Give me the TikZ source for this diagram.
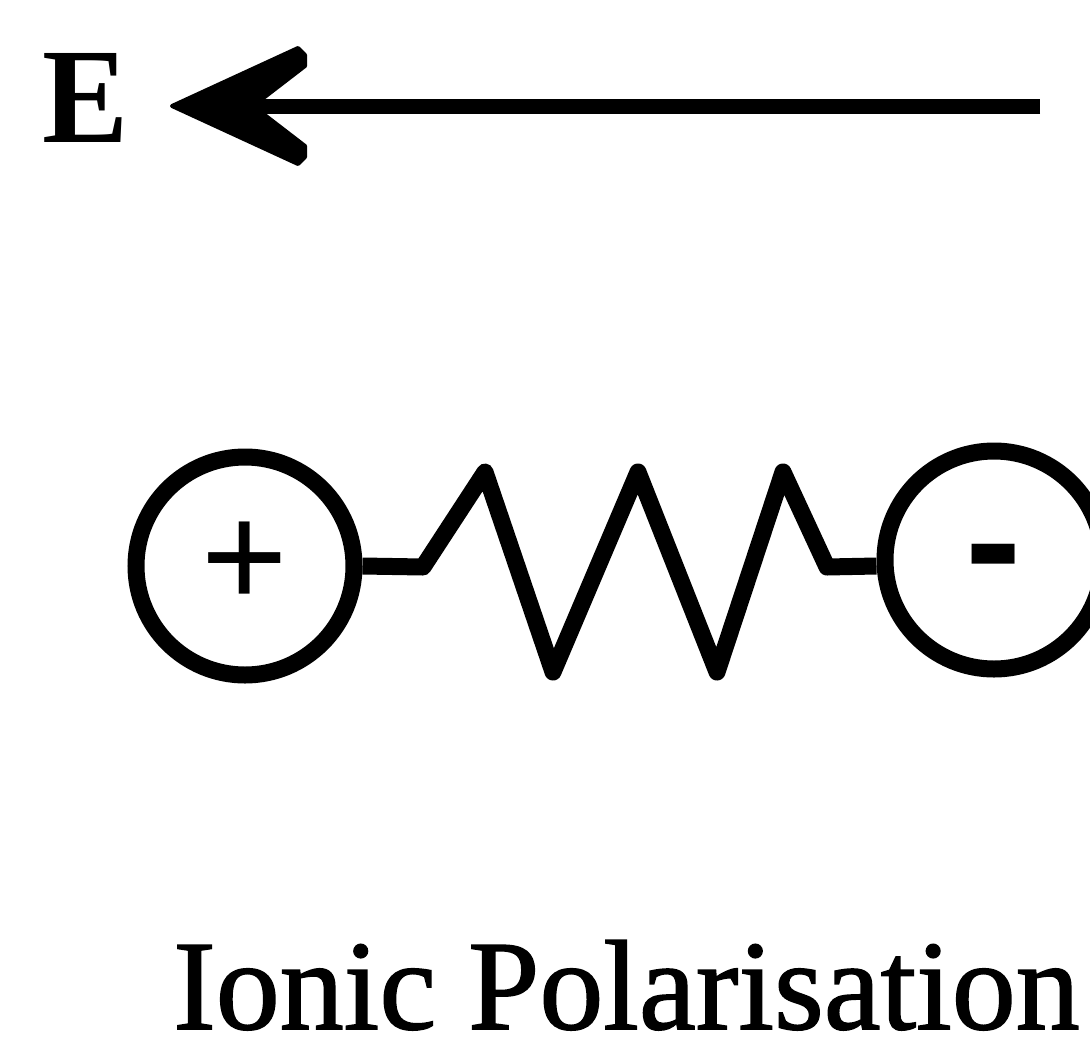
\documentclass[tikz,border=0pt]{standalone}
\usepackage{fontspec}
\setmainfont{Liberation Serif}
\newfontfamily\labelfont[FakeBold=1.2]{Liberation Serif}
\newfontfamily\fieldfont[FakeStretch=0.95]{Liberation Serif}
\newfontfamily\signfont{DejaVu Sans}

\begin{document}
\begin{tikzpicture}[x=1pt, y=-1pt,
        ion/.style={draw, circle, line width=17pt, minimum size=218pt, inner sep=0pt},
        spring/.style={line width=17pt, line join=round},
        fieldline/.style={line width=15pt},
        arrowhead/.style={fill, draw, line width=4pt, line join=round}]
        % Khung của hình
        \clip (0,0) rectangle (1090,1058);

        % Điện trường E
        \node[anchor=base west, inner sep=0pt] (E) at (42,142) {\fieldfont\fontsize{136}{136}\selectfont\bfseries E};
        \coordinate (tail) at (1040,106);
        \coordinate (tip) at (172,106);
        \draw[fieldline] (tail) -- ([xshift=82pt]tip);
        \filldraw[arrowhead, shift={(tip)}] (0,0) -- (126,-58) -- (133,-51) -- (133,-40)
            -- (81,0) -- (133,40) -- (133,51) -- (126,58) -- cycle;

        % Hai ion
        \node[ion] (plus) at (245,566) {\raisebox{-4pt}{\fontsize{155}{155}\selectfont\bfseries +}};
        \node[ion] (minus) at (994,560) {\raisebox{-34pt}[0pt][0pt]{\signfont\fontsize{140}{140}\selectfont\bfseries -}};

        % Lò xo nối hai ion
        \draw[spring] (plus.east) -- (423,567) -- (485,472) -- (553,672) -- (638,472)
            -- (717,672) -- (783,472) -- (827,567) -- (minus.west |- plus.east);

        % Nhãn
        \node[anchor=base west, inner sep=0pt] (label) at (173,1029) {\labelfont\fontsize{128}{128}\selectfont Ionic Polarisation};
    \end{tikzpicture}
\end{document}
